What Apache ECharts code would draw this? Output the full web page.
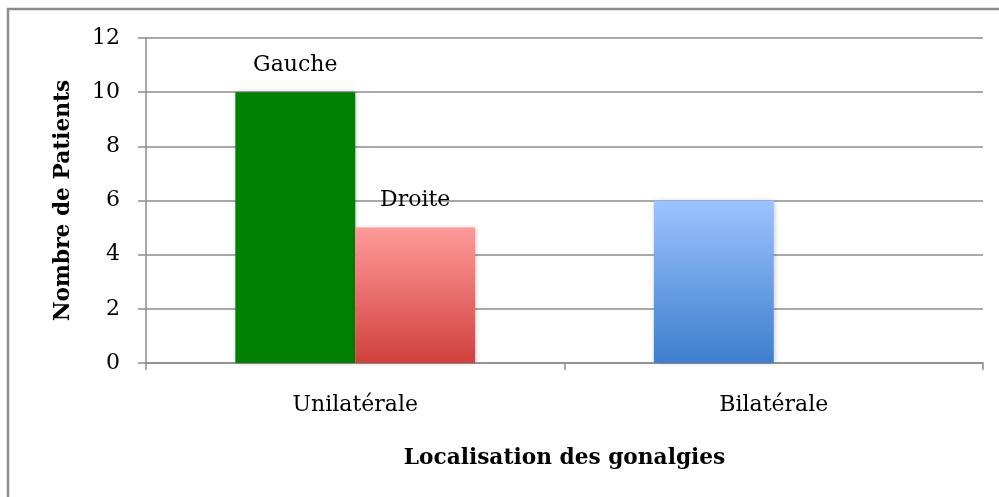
<!DOCTYPE html>
<html>
<head>
<meta charset="utf-8">
<script src="https://cdn.jsdelivr.net/npm/echarts@6/dist/echarts.min.js"></script>
<style>
html,body{margin:0;padding:0;background:#fff;}
#chart{width:999px;height:497px;}
</style>
</head>
<body>
<div id="chart"></div>
<script>
const categories = ['Unilatérale', 'Bilatérale'];
const firstSeriesValues = [10, 6];
const secondSeriesValues = [5, null];
const firstSeriesLabels = ['Gauche', ''];
const secondSeriesLabels = ['Droite', ''];
const yAxisTitle = 'Nombre de Patients';
const xAxisTitle = 'Localisation des gonalgies';
const yMin = 0, yMax = 12, yStep = 2;

const FONT = '"DejaVu Serif", serif';
const gridColor = '#8c8c8c';

const green = '#008000';
const redGrad = new echarts.graphic.LinearGradient(0, 0, 0, 1, [
  {offset: 0, color: '#ff9a9a'}, {offset: 1, color: '#d0413d'}]);
const blueGrad = new echarts.graphic.LinearGradient(0, 0, 0, 1, [
  {offset: 0, color: '#9cc3ff'}, {offset: 1, color: '#3d7ecd'}]);
const firstColors = [green, blueGrad];
const secondColors = [redGrad, redGrad];

const shadow = {shadowBlur: 5, shadowColor: 'rgba(0,0,0,0.25)', shadowOffsetX: 1, shadowOffsetY: 0};

function build(values, labels, colors) {
  return values.map((v, i) => v == null ? '-' : ({
    value: v,
    itemStyle: Object.assign({color: colors[i]}, shadow),
    label: {show: labels[i] !== '', formatter: labels[i]}
  }));
}

const chart = echarts.init(document.getElementById('chart'), null, {renderer: 'canvas'});
chart.setOption({
  animation: false,
  backgroundColor: '#fff',
  graphic: [{
    type: 'rect', silent: true, z: 100,
    shape: {x: 8, y: 9, width: 1010, height: 510},
    style: {fill: 'none', stroke: '#8c8c8c', lineWidth: 2.5}
  }],
  grid: {left: 146, right: 16, top: 38, bottom: 134, containLabel: false},
  xAxis: {
    type: 'category',
    data: categories,
    name: xAxisTitle,
    nameLocation: 'middle',
    nameGap: 84,
    nameTextStyle: {fontFamily: FONT, fontWeight: 'bold', fontSize: 21.7, color: '#000'},
    axisLine: {show: true, lineStyle: {color: gridColor, width: 1.5}},
    axisTick: {show: true, length: 7, alignWithLabel: false, lineStyle: {color: gridColor, width: 1.5}},
    axisLabel: {fontFamily: FONT, fontSize: 22, color: '#000', margin: 31}
  },
  yAxis: {
    type: 'value',
    min: yMin, max: yMax, interval: yStep,
    name: yAxisTitle,
    nameLocation: 'middle',
    nameGap: 72,
    nameRotate: 90,
    nameTextStyle: {fontFamily: FONT, fontWeight: 'bold', fontSize: 21.7, color: '#000'},
    axisLine: {show: true, lineStyle: {color: gridColor, width: 1.5}},
    axisTick: {show: true, length: 8, lineStyle: {color: gridColor, width: 1.5}},
    axisLabel: {fontFamily: FONT, fontSize: 22, color: '#000', margin: 26},
    splitLine: {show: true, lineStyle: {color: gridColor, width: 1.5}}
  },
  series: [
    {
      type: 'bar',
      data: build(firstSeriesValues, firstSeriesLabels, firstColors),
      barGap: '0%',
      barCategoryGap: '42.7%',
      label: {position: 'top', distance: 16, fontFamily: FONT, fontSize: 22, color: '#000'}
    },
    {
      type: 'bar',
      data: build(secondSeriesValues, secondSeriesLabels, secondColors),
      barGap: '0%',
      barCategoryGap: '42.7%',
      label: {position: 'top', distance: 16, fontFamily: FONT, fontSize: 22, color: '#000'}
    }
  ]
});
</script>
</body>
</html>
